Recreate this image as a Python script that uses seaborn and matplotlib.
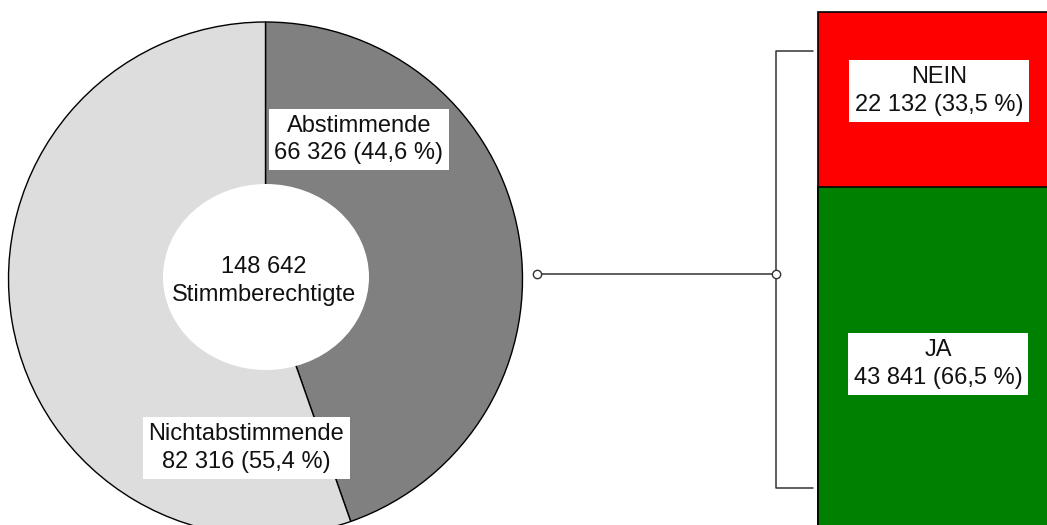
import matplotlib
matplotlib.use("Agg")
import matplotlib.pyplot as plt
from matplotlib.patches import Ellipse
import seaborn as sns

# Turnout: voters vs. non-voters
turnout_labels = ["Abstimmende", "Nichtabstimmende"]
turnout_values = [66326, 82316]
turnout_colors = ["#808080", "#dddddd"]
electorate_label = "Stimmberechtigte"

# Result of the vote
result_labels = ["JA", "NEIN"]
result_values = [43841, 22132]
result_colors = ["#008000", "#ff0000"]


def fmt_int(v):
    return f"{v:,}".replace(",", " ")


def fmt_pct(v, total):
    return f"{v / total * 100:.1f}".replace(".", ",")


sns.set_theme(style="white")
plt.rcParams["font.family"] = ["Liberation Sans", "DejaVu Sans"]
plt.rcParams["font.size"] = 17

W, H = 1047, 525
fig = plt.figure(figsize=(W / 100, H / 100), dpi=100)
fig.patch.set_facecolor("white")


def py(y):
    return H - y


# Stacked bar of the result (own axes, vote scale)
votes = sum(result_values)
bar_top_px, bar_bot_px = 12, 534
ax_top_px, ax_bot_px = 5, 540
px_per_vote = (bar_bot_px - bar_top_px) / votes
ylo = -(ax_bot_px - bar_bot_px) / px_per_vote
yhi = votes + (bar_top_px - ax_top_px) / px_per_vote

bar_left_px, bar_w_px = 818, 252
ax_left_px, ax_right_px = 810, 1080
xlo = -0.5 - (bar_left_px - ax_left_px) / bar_w_px
xhi = -0.5 + (ax_right_px - bar_left_px) / bar_w_px

bax = fig.add_axes([ax_left_px / W, (H - ax_bot_px) / H,
                    (ax_right_px - ax_left_px) / W, (ax_bot_px - ax_top_px) / H])
cat = ["Ergebnis"]
sns.barplot(x=cat, y=[votes], color=result_colors[1], width=1, saturation=1,
            edgecolor="black", linewidth=1.2, errorbar=None, ax=bax)
sns.barplot(x=cat, y=[result_values[0]], color=result_colors[0], width=1,
            saturation=1, edgecolor="black", linewidth=1.2, errorbar=None, ax=bax)
bax.set_xlim(xlo, xhi)
bax.set_ylim(ylo, yhi)
bax.axis("off")

# Main axes in pixel units (y measured upward), drawn above the bar axes
ax = fig.add_axes([0, 0, 1, 1])
ax.set_zorder(3)
ax.patch.set_visible(False)

electorate = sum(turnout_values)
cx, cy, r = 265.5, py(279), 257
ax.pie(turnout_values, colors=turnout_colors, startangle=90, counterclock=False,
       center=(cx, cy), radius=r,
       wedgeprops=dict(edgecolor="black", linewidth=1.0))
ax.add_patch(Ellipse((266, py(277)), 206, 186, facecolor="white",
                     edgecolor="none", zorder=5))
ax.set_xlim(0, W)
ax.set_ylim(0, H)
ax.set_aspect("auto")
ax.axis("off")

box = dict(boxstyle="square,pad=0.25", facecolor="white", edgecolor="none")
text_kw = dict(ha="center", va="center", color="#111111", zorder=10,
               linespacing=1.35)

ax.text(264, py(281), f"{fmt_int(electorate)}\n{electorate_label}", **text_kw)
turnout_pos = [(359, 139.5), (246.5, 448)]
for lab, val, (tx, ty) in zip(turnout_labels, turnout_values, turnout_pos):
    ax.text(tx, py(ty), f"{lab}\n{fmt_int(val)} ({fmt_pct(val, electorate)} %)",
            bbox=box, **text_kw)

# Connector from the ring to the bracket
line_col = "#333333"
ax.plot([536.7, 776], [py(274.3), py(274.3)], color=line_col, lw=1.1,
        marker="o", markersize=6, markerfacecolor="white",
        markeredgecolor=line_col, markeredgewidth=1.0, zorder=8)
# Bracket next to the bar
ax.plot([813, 776, 776, 813], [py(51), py(51), py(488), py(488)],
        color=line_col, lw=1.1, zorder=6)

result_pos = [(938, 364), (939, 91)]
for lab, val, (tx, ty) in zip(result_labels, result_values, result_pos):
    ax.text(tx, py(ty), f"{lab}\n{fmt_int(val)} ({fmt_pct(val, votes)} %)",
            bbox=box, **text_kw)

fig.savefig("out.png", dpi=100, facecolor="white")
